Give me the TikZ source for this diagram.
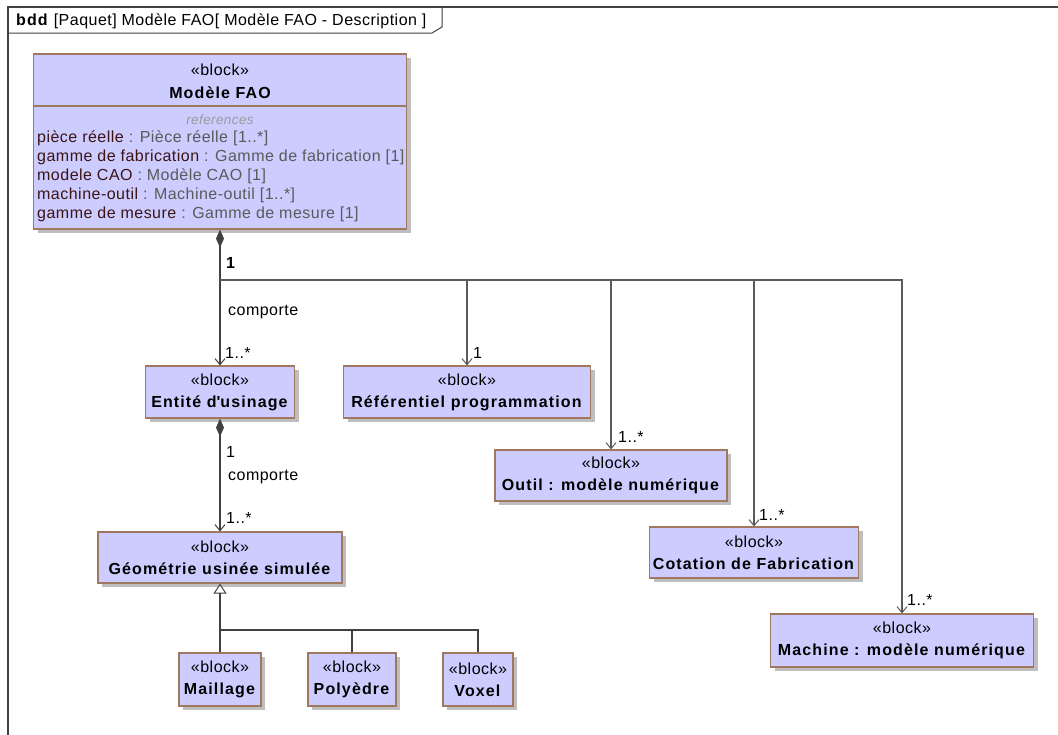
\documentclass[tikz,border=0pt]{standalone}
\usepackage{fontspec}
\setmainfont{Liberation Sans}[LetterSpace=3,BoldFeatures={LetterSpace=7}]
\usetikzlibrary{arrows.meta,positioning,shadows}
\definecolor{cfill}{HTML}{CCCCFF}
\definecolor{cborder}{HTML}{A07860}
\definecolor{cshadow}{HTML}{BEBEBE}
\definecolor{cline}{HTML}{404040}
\definecolor{cassoc}{HTML}{5A5A5A}
\definecolor{cprop}{HTML}{3C1414}
\definecolor{ctype}{HTML}{5A5A5A}
\definecolor{cref}{HTML}{9A9A9A}
\newcommand{\blk}[1]{«block»\\\textbf{#1}}

\begin{document}
\begin{tikzpicture}[x=1pt,y=-1pt,
  every node/.style={font=\fontsize{16}{22}\selectfont,inner sep=0pt},
  block/.style={draw=cborder,line width=1.2pt,fill=cfill,align=center,
    general shadow={fill=cshadow,shadow xshift=4pt,shadow yshift=-4pt}},
  comp/.style={cline,line width=1.4pt,{Diamond[length=18pt,width=8pt]}-{Straight Barb[length=6pt,width=10pt,line width=1pt]}},
  assoc/.style={cassoc,line width=1.2pt,-{Straight Barb[length=6pt,width=10pt,line width=1pt]}},
  genline/.style={cline,line width=1.4pt},
  mult/.style={anchor=west}]
  \useasboundingbox (0,0) rectangle (1058,734);
  % frame
  \draw[cline,line width=1.2pt] (8,740) -- (8,7) -- (1062,7);
  \draw[cline,line width=1pt] (8,33) -- (432,33) -- (442,27) -- (442,7);
  \node[anchor=west] (title) at (16,21) {\textbf{bdd} [Paquet] Modèle FAO[ Modèle FAO - Description ]};
  % main block
  \node[block,minimum width=373pt,minimum height=175pt] (main) at (220,141.5) {};
  \draw[cborder,line width=1.2pt] (main.west |- 0,106) -- (main.east |- 0,106);
  \node (mainst) at (220,70) {«block»};
  \node[font=\fontsize{16}{22}\selectfont\bfseries] (maintit) at (220,93) {Modèle FAO};
  \node[anchor=base,font=\fontsize{13.5}{15}\selectfont\itshape,text=cref] (mainref) at (220,124) {references};
  \foreach \p/\t [count=\i] in {{pièce réelle}/{Pièce réelle [1..*]},
      {gamme de fabrication}/{Gamme de fabrication [1]},
      {modele CAO}/{Modèle CAO [1]},
      {machine-outil}/{Machine-outil [1..*]},
      {gamme de mesure}/{Gamme de mesure [1]}}
    \node[anchor=base west,text=cprop] (prop\i) at (37,{123+19*\i}) {\p\ \textcolor{ctype}{: \t}};
  % blocks
  \node[block,minimum width=149pt,minimum height=52pt] (ent) at (220,392) {\blk{Entité d\textquotesingle usinage}};
  \node[block,minimum width=247pt,minimum height=52pt] (ref) at (467,392) {\blk{Référentiel programmation}};
  \node[block,minimum width=232pt,minimum height=51pt] (outil) at (611,475.5) {\blk{Outil : modèle numérique}};
  \node[block,minimum width=209pt,minimum height=51pt] (cot) at (754,552.5) {\blk{Cotation de Fabrication}};
  \node[block,minimum width=263pt,minimum height=53pt] (mach) at (902,640.5) {\blk{Machine : modèle numérique}};
  \node[block,minimum width=244pt,minimum height=51pt] (geo) at (220,557.5) {\blk{Géométrie usinée simulée}};
  \node[block,minimum width=82pt,minimum height=53pt] (mail) at (220,679.5) {\blk{Maillage}};
  \node[block,minimum width=88pt,minimum height=53pt] (poly) at (352,679.5) {\blk{Polyèdre}};
  \node[block,minimum width=70pt,minimum height=53pt] (vox) at (478,679.5) {\blk{Voxel}};
  % compositions
  \coordinate (bus) at (220,280);
  \draw[comp] (main.south) -- (ent.north);
  \draw[assoc] (bus) -| (ref.north);
  \draw[assoc] (bus) -| (outil.north);
  \draw[assoc] (bus) -| (cot.north);
  \draw[assoc] (bus) -| (mach.north);
  \draw[comp] (ent.south) -- (geo.north);
  % generalisation
  \coordinate (gj) at (220,630);
  \draw[genline,-{Triangle[open,length=10pt,width=13pt,fill=white,line width=1pt]}] (gj) -- (geo.south);
  \draw[genline] (mail.north) -- (gj) -| (vox.north);
  \draw[genline] (poly.north) -- (poly.north |- gj);
  % labels
  \node[mult] (m1) at (226,263) {\textbf{1}};
  \node[mult] (lc1) at (228,312) {comporte};
  \node[mult] (m2) at (225,353) {1..*};
  \node[mult] (m3) at (473,353) {1};
  \node[mult] (m4) at (618,437) {1..*};
  \node[mult] (m5) at (759,515) {1..*};
  \node[mult] (m6) at (907,600) {1..*};
  \node[mult] (m7) at (226,452) {1};
  \node[mult] (lc2) at (228,477) {comporte};
  \node[mult] (m8) at (226,518) {1..*};
\end{tikzpicture}
\end{document}
